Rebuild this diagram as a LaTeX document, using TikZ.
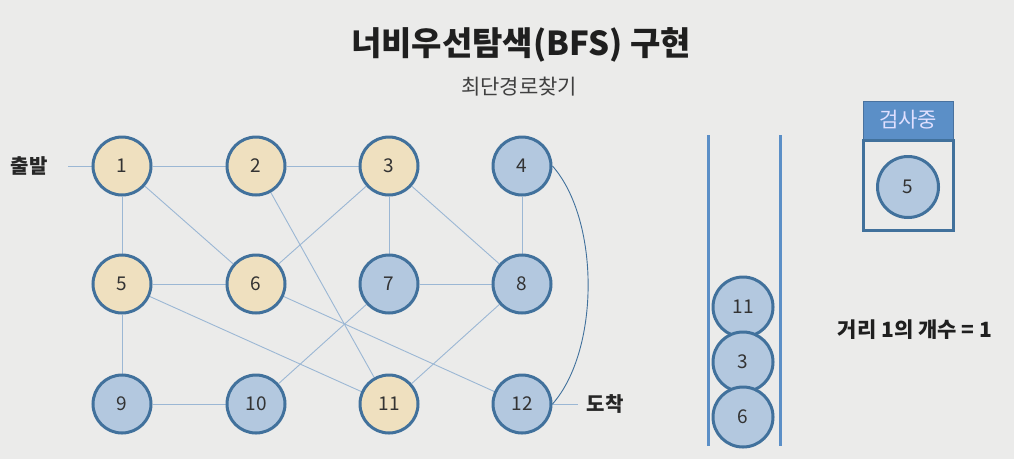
\documentclass[tikz,border=0pt]{standalone}
\usepackage{fontspec}
\setmainfont{Noto Sans CJK KR}
\pgfdeclarelayer{bglayer}
\pgfdeclarelayer{edgelayer}
\pgfsetlayers{bglayer,edgelayer,main}
\definecolor{bg}{HTML}{EBEBEA}
\definecolor{nodeyellow}{HTML}{EFE0BF}
\definecolor{nodeblue}{HTML}{B3C8DF}
\definecolor{nodeborder}{HTML}{41719C}
\definecolor{edgeblue}{HTML}{9BB7D4}
\definecolor{headblue}{HTML}{5B8FC7}
\begin{document}
\begin{tikzpicture}[x=1pt,y=-1pt,
  vtx/.style={circle,draw=nodeborder,line width=3pt,minimum size=58pt,inner sep=0pt,font=\fontsize{19}{21}\selectfont,text=black!80},
  visited/.style={vtx,fill=nodeyellow},
  fresh/.style={vtx,fill=nodeblue},
  edge/.style={draw=edgeblue,line width=0.9pt},
  lbl/.style={font=\fontsize{20}{22}\selectfont\bfseries,text=black!85}
]
\begin{pgfonlayer}{bglayer}
\fill[bg] (0,0) rectangle (1014,459);
\end{pgfonlayer}
\useasboundingbox (0,0) rectangle (1014,459);

\node[font=\fontsize{33}{38}\selectfont\bfseries,text=black!88] (title) at (521,45) {너비우선탐색(BFS) 구현};
\node[font=\fontsize{21}{24}\selectfont,text=black!75] (sub) at (519,87) {최단경로찾기};

% graph nodes
\node[visited] (n1) at (122,166) {1};
\node[visited] (n2) at (256,166) {2};
\node[visited] (n3) at (389,166) {3};
\node[fresh] (n4) at (522,166) {4};
\node[visited] (n5) at (122,284) {5};
\node[visited] (n6) at (256,284) {6};
\node[fresh] (n7) at (389,284) {7};
\node[fresh] (n8) at (522,284) {8};
\node[fresh] (n9) at (122,404) {9};
\node[fresh] (n10) at (256,404) {10};
\node[visited] (n11) at (389,404) {11};
\node[fresh] (n12) at (522,404) {12};

\node[lbl] (start) at (29,166) {출발};
\node[lbl] (goal) at (605,404) {도착};
\coordinate (startend) at (68,166);
\coordinate (goalend) at (578,404);

\begin{pgfonlayer}{edgelayer}
\path[edge] (startend) -- (n1.center);
\path[edge] (n12.center) -- (goalend);
\path[edge] (n1) -- (n2);
\path[edge] (n2) -- (n3);
\path[edge] (n1) -- (n5);
\path[edge] (n1) -- (n6);
\path[edge] (n2) -- (n11);
\path[edge] (n3) -- (n6);
\path[edge] (n3) -- (n7);
\path[edge] (n3) -- (n8);
\path[edge] (n4) -- (n8);
\path[edge] (n5) -- (n6);
\path[edge] (n5) -- (n9);
\path[edge] (n5) -- (n11);
\path[edge] (n6) -- (n12);
\path[edge] (n7) -- (n8);
\path[edge] (n8) -- (n11);
\path[edge] (n9) -- (n10);
\path[edge] (n10) -- (n7);
\path[draw=nodeborder,line width=0.9pt] (n4.east) .. controls (600,220) and (600,350) .. (n12.east);
\end{pgfonlayer}

% queue
\coordinate (qlt) at (708,135);
\coordinate (qlb) at (708,446);
\coordinate (qrt) at (780,135);
\coordinate (qrb) at (780,446);
\draw[headblue,line width=3pt] (qlt) -- (qlb);
\draw[headblue,line width=3pt] (qrt) -- (qrb);
\node[fresh,minimum size=60pt] (q1) at (743,307) {11};
\node[fresh,minimum size=60pt] (q2) at (743,362) {3};
\node[fresh,minimum size=60pt] (q3) at (743,417) {6};

% checking box
\node[draw=headblue!80!black,fill=headblue,line width=0.8pt,minimum width=90pt,minimum height=38pt,inner sep=0pt,font=\fontsize{21}{24}\selectfont,text=white!88!blue] (head) at (908,120) {검사중};
\node[draw=nodeborder,line width=3pt,minimum width=90pt,minimum height=90pt,inner sep=0pt] (box) at (908,185) {};
\node[fresh,minimum size=61pt] (cur) at (908,187) {5};

\node[font=\fontsize{21}{24}\selectfont\bfseries,text=black!88] (count) at (915,330) {거리 1의 개수 = 1};
\end{tikzpicture}
\end{document}
